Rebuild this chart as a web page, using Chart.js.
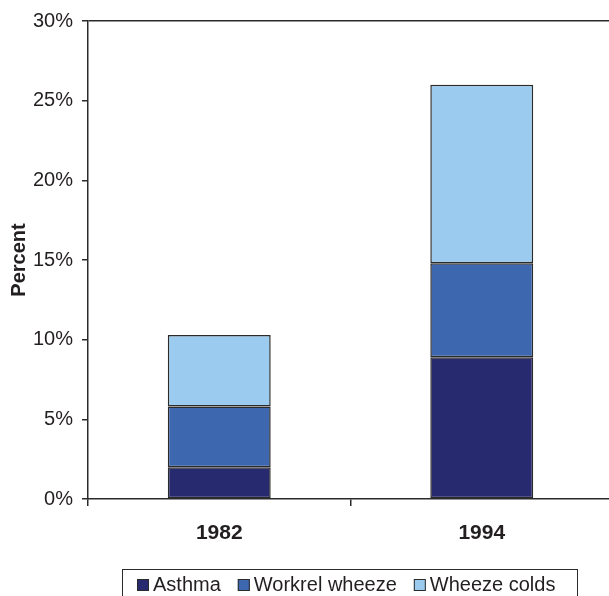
<!DOCTYPE html>
<html>
<head>
<meta charset="utf-8">
<title>Asthma and wheeze prevalence, 1982 and 1994</title>
<script src="https://cdn.jsdelivr.net/npm/chart.js@4/dist/chart.umd.min.js"></script>
<style>
  html, body { margin: 0; padding: 0; background: #ffffff; overflow: hidden; }
  #wrap { width: 613px; height: 596px; }
</style>
</head>
<body>
<div id="wrap"><canvas id="chart" width="613" height="596"></canvas></div>
<script>
// Survey years and stacked prevalence (percent) per outcome
const years = ['1982', '1994'];
const asthma = [2.0, 8.9];
const workrelWheeze = [3.8, 5.9];
const wheezeColds = [4.5, 11.2];

const seriesNames = ['Asthma', 'Workrel wheeze', 'Wheeze colds'];
const seriesColors = ['#282a70', '#3d67af', '#9bcbee'];

const FONT = "'Liberation Sans', Arial, Helvetica, sans-serif";
const INK = '#231f20';
const LINE = '#2b2b2b';

// Boxed legend row along the bottom edge, built from the datasets
const boxedLegend = {
  id: 'boxedLegend',
  afterDraw(chart) {
    const ctx = chart.ctx;
    ctx.save();
    ctx.strokeStyle = LINE;
    ctx.lineWidth = 1;
    ctx.strokeRect(122.5, 569.5, 455, 40);
    ctx.font = '20px ' + FONT;
    ctx.textBaseline = 'middle';
    ctx.textAlign = 'left';
    let x = 137;
    const cy = 585;
    chart.data.datasets.forEach(ds => {
      ctx.fillStyle = ds.backgroundColor;
      ctx.fillRect(x, cy - 6, 12, 12);
      ctx.strokeStyle = LINE;
      ctx.lineWidth = 1;
      ctx.strokeRect(x + 0.5, cy - 5.5, 11, 11);
      ctx.fillStyle = INK;
      ctx.fillText(ds.label, x + 16, cy);
      x += 16 + ctx.measureText(ds.label).width + 17;
    });
    ctx.restore();
  }
};

const seriesData = [asthma, workrelWheeze, wheezeColds];

new Chart(document.getElementById('chart'), {
  type: 'bar',
  data: {
    labels: years,
    datasets: seriesData.map((vals, i) => ({
      label: seriesNames[i],
      data: vals,
      backgroundColor: seriesColors[i],
      borderColor: LINE,
      borderWidth: 1.5,
      borderSkipped: false,
      barPercentage: 0.392,
      categoryPercentage: 1.0
    }))
  },
  options: {
    responsive: false,
    animation: false,
    events: [],
    layout: { padding: { top: 21, right: 0, bottom: 0, left: 0 } },
    plugins: {
      legend: { display: false },
      tooltip: { enabled: false }
    },
    scales: {
      x: {
        stacked: true,
        afterFit(scale) { scale.height = 97; },
        border: { display: true, color: LINE, width: 1.5 },
        grid: {
          offset: true,
          drawOnChartArea: false,
          drawTicks: true,
          tickLength: 7,
          color: LINE,
          tickColor: LINE,
          lineWidth: 1.5
        },
        ticks: {
          color: INK,
          padding: 15,
          font: { family: FONT, size: 21, weight: 'bold' }
        }
      },
      y: {
        stacked: true,
        min: 0,
        max: 30,
        afterFit(scale) { scale.width = 88; },
        border: { display: true, color: LINE, width: 1.5 },
        grid: {
          drawOnChartArea: true,
          drawTicks: true,
          tickLength: 6,
          lineWidth: 1.5,
          color: ctx => (ctx.tick && ctx.tick.value === 30) ? LINE : 'rgba(0,0,0,0)',
          tickColor: LINE
        },
        ticks: {
          stepSize: 5,
          padding: 9,
          color: INK,
          font: { family: FONT, size: 20 },
          callback: v => v + '%'
        },
        title: {
          display: true,
          text: 'Percent',
          color: INK,
          padding: { top: 7, bottom: 0 },
          font: { family: FONT, size: 20, weight: 'bold' }
        }
      }
    }
  },
  plugins: [boxedLegend]
});
</script>
</body>
</html>
